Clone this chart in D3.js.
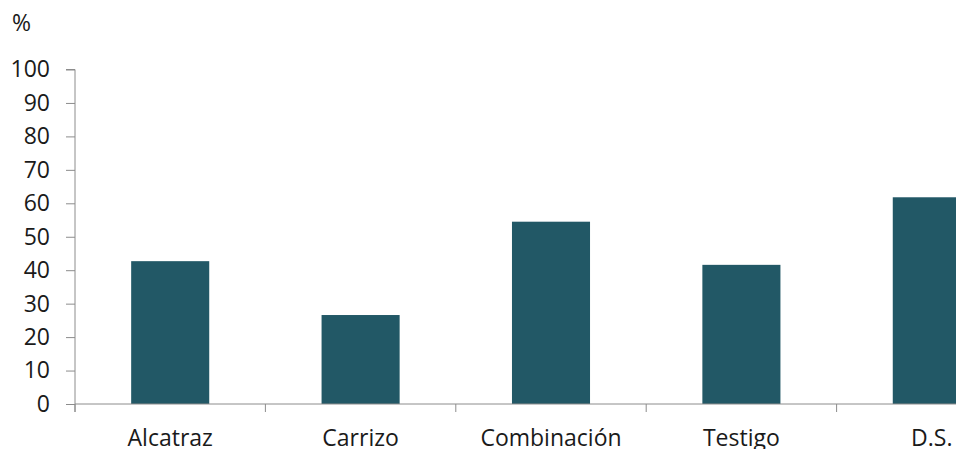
<!DOCTYPE html>
<html><head><meta charset="utf-8">
<script src="https://cdn.jsdelivr.net/npm/d3@7"></script>
<style>body{margin:0;background:#fff;overflow:hidden}text{font-family:"Open Sans",sans-serif;fill:#1a1a1a}</style>
</head><body><svg id="c" width="956" height="449"></svg>
<script>
const categories = ["Alcatraz","Carrizo","Combinación","Testigo","D.S."];
const values = [42.7, 26.6, 54.5, 41.6, 61.8];
const yTicks = [0,10,20,30,40,50,60,70,80,90,100];
const yUnit = "%";

const svg = d3.select("#c");
const x0 = 75, y0 = 404, y100 = 69.5, step = 190.4;
const x = d3.scaleBand().domain(categories).range([x0, x0 + step*categories.length]).paddingInner(0.59).paddingOuter(0.295);
const y = d3.scaleLinear().domain([0,100]).range([y0, y100]);
const axisColor = "#8c8c8c";

// bars
svg.selectAll("rect.bar").data(values).join("rect").attr("class","bar")
  .attr("x",(d,i)=>x(categories[i])).attr("width",x.bandwidth())
  .attr("y",d=>y(d)).attr("height",d=>y(0)-y(d)).attr("fill","#225866");

// y axis
const ya = svg.append("g").attr("transform",`translate(${x0},0)`)
  .call(d3.axisLeft(y).tickValues(yTicks).tickSize(9).tickPadding(16).tickFormat(d3.format("d")));
ya.select(".domain").attr("stroke",axisColor).attr("d",`M-9,${y100}H0V${y0+8}`);
ya.selectAll(".tick line").attr("stroke",axisColor);
ya.selectAll(".tick text").style("font-size","23px").attr("fill","#1a1a1a");

// x axis
const xa = svg.append("g");
xa.append("line").attr("x1",x0).attr("x2",x0+step*categories.length).attr("y1",y0).attr("y2",y0).attr("stroke",axisColor);
const bounds = d3.range(categories.length+1).map(i=>x0+i*step);
xa.selectAll("line.t").data(bounds).join("line").attr("class","t")
  .attr("x1",d=>d).attr("x2",d=>d).attr("y1",y0).attr("y2",y0+8).attr("stroke",axisColor);
xa.selectAll("text").data(categories).join("text")
  .attr("x",d=>x(d)+x.bandwidth()/2).attr("y",446).attr("text-anchor","middle")
  .style("font-size","23px").text(d=>d);

svg.append("text").attr("x",12).attr("y",31).style("font-size","23px").text(yUnit);
</script></body></html>
